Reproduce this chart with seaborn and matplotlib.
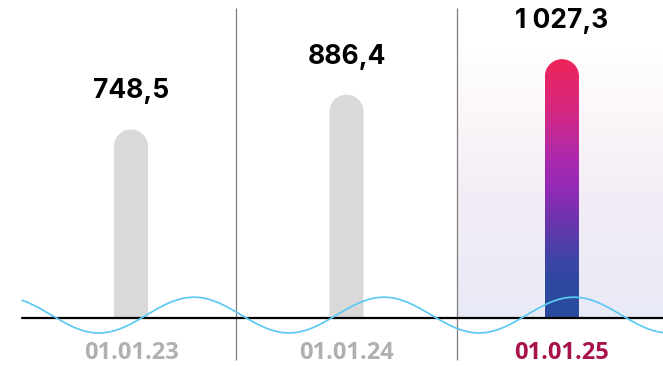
import numpy as np
import matplotlib

matplotlib.use("Agg")
import matplotlib.pyplot as plt
import seaborn as sns
from matplotlib.colors import LinearSegmentedColormap
from matplotlib.patches import PathPatch
from matplotlib.path import Path

# data
dates = ["01.01.23", "01.01.24", "01.01.25"]
values = [748.5, 886.4, 1027.3]

# style
GREY_BAR = "#d9d9d9"
GREY_TEXT = "#b0b0b0"
ACCENT_TEXT = "#a8124a"
DIVIDER = "#7d7d7d"
WAVE = "#5ec9f4"
BAR_STOPS = [(0.0, "#2a4a9f"), (0.12, "#2c4aa0"), (0.22, "#3c44a5"), (0.38, "#6e34ad"),
             (0.5, "#9329b8"), (0.6, "#a92aaf"), (0.8, "#d52882"), (1.0, "#ee2459")]
PANEL_STOPS = [(0.0, "#e8eaf5"), (0.37, "#f3ecf6"), (0.62, "#fbf5f9"), (0.85, "#ffffff"), (1.0, "#ffffff")]

W, H, DPI = 663, 366, 100
XLIM = (-0.608, 2.469)
YLIM = (-190, 1262)
BAR_W = 0.158


def fmt(v):
    whole, frac = f"{v:.1f}".split(".")
    if len(whole) > 3:
        whole = whole[:-3] + " " + whole[-3:]
    return f"{whole},{frac}"


def rounded_path(x0, x1, top, ry):
    cx, rx = (x0 + x1) / 2, (x1 - x0) / 2
    t = np.linspace(0, np.pi, 40)
    arc = np.column_stack([cx + rx * np.cos(t), top - ry + ry * np.sin(t)])
    verts = np.vstack([[x0, 0], [x1, 0], arc, [x0, 0]])
    codes = [Path.MOVETO] + [Path.LINETO] * (len(verts) - 2) + [Path.CLOSEPOLY]
    return Path(verts, codes)


sns.set_style("white")
fig = plt.figure(figsize=(W / DPI, H / DPI), dpi=DPI)
ax = fig.add_axes([0, 0, 1, 1])

sns.barplot(x=dates, y=values, color=GREY_BAR, width=BAR_W, ax=ax, zorder=3)
ax.set_xlim(*XLIM)
ax.set_ylim(*YLIM)
ax.axis("off")

# pixel size of a data unit, for round caps of equal radius
px_x = W / (XLIM[1] - XLIM[0])
px_y = H / (YLIM[1] - YLIM[0])

# highlighted panel background
panel_cmap = LinearSegmentedColormap.from_list("panel", PANEL_STOPS)
ax.imshow(np.linspace(0, 1, 256)[:, None], cmap=panel_cmap, aspect="auto", origin="lower",
          extent=(1.513, XLIM[1], 0, YLIM[1]), zorder=0)

ax.vlines([0.487, 1.513], -167, 1230, color=DIVIDER, lw=0.9, zorder=1)

bar_cmap = LinearSegmentedColormap.from_list("bar", BAR_STOPS)
for i, patch in enumerate(list(ax.patches)):
    x0 = patch.get_x()
    x1 = x0 + patch.get_width()
    top = patch.get_height()
    patch.set_visible(False)
    ry = (patch.get_width() / 2) * px_x / px_y
    path = rounded_path(x0, x1, top, ry)
    if i == len(values) - 1:
        img = ax.imshow(np.linspace(0, 1, 256)[:, None], cmap=bar_cmap, aspect="auto",
                        origin="lower", extent=(x0, x1, 0, top), zorder=3)
        clip = PathPatch(path, transform=ax.transData, facecolor="none", edgecolor="none")
        ax.add_patch(clip)
        img.set_clip_path(clip)
    else:
        ax.add_patch(PathPatch(path, facecolor=GREY_BAR, edgecolor="none", zorder=3))

    ax.annotate(fmt(values[i]), (i, top), xytext=(0, 27.4), textcoords="offset points",
                ha="center", va="center", fontsize=19, fontweight="bold",
                family=["Inter", "DejaVu Sans"], color="black")
    ax.text(i, -139, dates[i], ha="center", va="center", fontsize=17, fontweight="bold",
            family=["Open Sans", "DejaVu Sans"],
            color=ACCENT_TEXT if i == len(values) - 1 else GREY_TEXT)

# baseline and decorative wave
ax.plot([-0.506, XLIM[1]], [0, 0], color="black", lw=1.6, zorder=4)
wx = np.linspace(-0.506, XLIM[1], 500)
wy = 12 + 71 * np.cos(2 * np.pi * (wx - 0.292) / 0.882)
ax.plot(wx, wy, color=WAVE, lw=1.25, zorder=5)

fig.savefig("out.png", dpi=DPI, facecolor="white")
